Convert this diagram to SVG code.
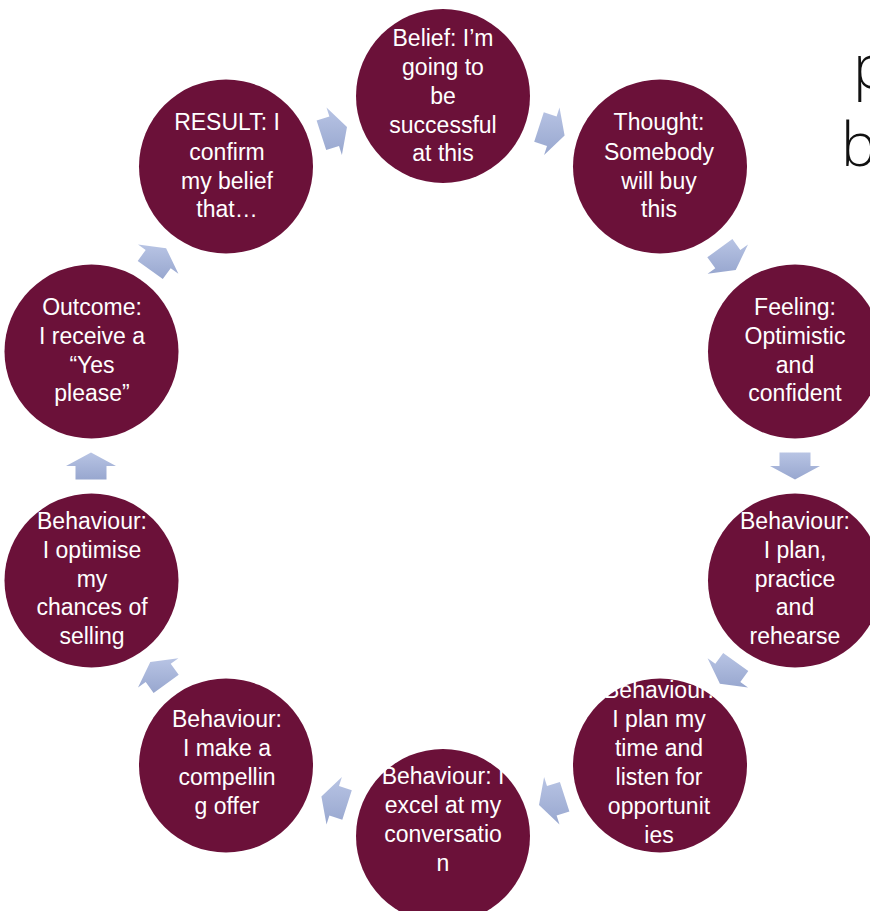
<svg xmlns="http://www.w3.org/2000/svg" width="870" height="911" viewBox="0 0 870 911">
<style>
.n{fill:#6b1139}
.t{font-family:"Liberation Sans",Arial,sans-serif;font-size:23px;fill:#ffffff;text-anchor:middle}
.a{fill:url(#ag)}
.title{font-family:"Open Sans","Liberation Sans",sans-serif;font-weight:300;font-size:60px;fill:#111}
</style>
<defs>
<linearGradient id="ag" x1="0" y1="0" x2="0" y2="1">
<stop offset="0" stop-color="#b8c4e4"/>
<stop offset="1" stop-color="#98a7cf"/>
</linearGradient>
</defs>
<rect width="870" height="911" fill="#fff"/>
<text class="title" x="853" y="88">p</text>
<text class="title" x="841" y="166">b</text>
<g id="connectors">
<polygon class="a" points="316.6,120.6 329.4,116.5 326.5,107.4 347.0,127.0 341.9,155.0 339.0,145.9 326.2,150.1"/>
<polygon class="a" points="543.8,112.3 556.6,116.5 559.5,107.4 564.6,135.4 544.1,155.0 547.0,145.9 534.2,141.8"/>
<polygon class="a" points="732.4,239.1 740.3,250.0 748.0,244.4 735.7,270.0 707.6,273.8 715.3,268.2 707.3,257.3"/>
<polygon class="a" points="810.5,452.5 810.5,466 820,466 795,479.5 770,466 779.5,466 779.5,452.5"/>
<polygon class="a" points="748.3,671.1 740.3,682.0 748.0,687.6 719.9,683.8 707.6,658.2 715.3,663.8 723.2,652.9"/>
<polygon class="a" points="569.4,811.4 556.6,815.5 559.5,824.6 539.0,805.0 544.1,777.0 547.0,786.1 559.9,781.9"/>
<polygon class="a" points="342.3,819.7 329.4,815.5 326.5,824.6 321.4,796.6 341.9,777.0 339.0,786.1 351.8,790.2"/>
<polygon class="a" points="153.6,692.9 145.7,682.0 138.0,687.6 150.3,662.0 178.4,658.2 170.7,663.8 178.7,674.7"/>
<polygon class="a" points="75.5,479.5 75.5,466 66,466 91,452.5 116,466 106.5,466 106.5,479.5"/>
<polygon class="a" points="137.7,260.9 145.7,250.0 138.0,244.4 166.1,248.2 178.4,273.8 170.7,268.2 162.8,279.1"/>
</g>
<g id="node1">
<circle class="n" cx="443" cy="96" r="87"/>
<text class="t" x="443" y="46">Belief: I’m</text>
<text class="t" x="443" y="75">going to</text>
<text class="t" x="443" y="104">be</text>
<text class="t" x="443" y="133">successful</text>
<text class="t" x="443" y="161">at this</text>
</g>
<g id="node2">
<circle class="n" cx="660" cy="166.5" r="87"/>
<text class="t" x="659" y="130">Thought:</text>
<text class="t" x="659" y="160">Somebody</text>
<text class="t" x="659" y="189">will buy</text>
<text class="t" x="659" y="217">this</text>
</g>
<g id="node3">
<circle class="n" cx="795" cy="351.5" r="87"/>
<text class="t" x="795" y="315">Feeling:</text>
<text class="t" x="795" y="344">Optimistic</text>
<text class="t" x="795" y="373">and</text>
<text class="t" x="795" y="401">confident</text>
</g>
<g id="node4">
<circle class="n" cx="795" cy="580.5" r="87"/>
<text class="t" x="795" y="529">Behaviour:</text>
<text class="t" x="795" y="558">I plan,</text>
<text class="t" x="795" y="587">practice</text>
<text class="t" x="795" y="615">and</text>
<text class="t" x="795" y="644">rehearse</text>
</g>
<g id="node5">
<circle class="n" cx="660" cy="765.5" r="87"/>
<text class="t" x="659" y="698">Behaviour:</text>
<text class="t" x="659" y="727">I plan my</text>
<text class="t" x="659" y="756">time and</text>
<text class="t" x="659" y="785">listen for</text>
<text class="t" x="659" y="814">opportunit</text>
<text class="t" x="659" y="843">ies</text>
</g>
<g id="node6">
<circle class="n" cx="443" cy="836" r="87"/>
<text class="t" x="443" y="784">Behaviour: I</text>
<text class="t" x="443" y="813">excel at my</text>
<text class="t" x="443" y="842">conversatio</text>
<text class="t" x="443" y="871">n</text>
</g>
<g id="node7">
<circle class="n" cx="226" cy="765.5" r="87"/>
<text class="t" x="227" y="727">Behaviour:</text>
<text class="t" x="227" y="756">I make a</text>
<text class="t" x="227" y="785">compellin</text>
<text class="t" x="227" y="814">g offer</text>
</g>
<g id="node8">
<circle class="n" cx="91.5" cy="580.5" r="87"/>
<text class="t" x="92" y="529">Behaviour:</text>
<text class="t" x="92" y="558">I optimise</text>
<text class="t" x="92" y="587">my</text>
<text class="t" x="92" y="615">chances of</text>
<text class="t" x="92" y="644">selling</text>
</g>
<g id="node9">
<circle class="n" cx="91.5" cy="351.5" r="87"/>
<text class="t" x="92" y="315">Outcome:</text>
<text class="t" x="92" y="344">I receive a</text>
<text class="t" x="92" y="373">“Yes</text>
<text class="t" x="92" y="401">please”</text>
</g>
<g id="node10">
<circle class="n" cx="226" cy="166.5" r="87"/>
<text class="t" x="227" y="130">RESULT: I</text>
<text class="t" x="227" y="160">confirm</text>
<text class="t" x="227" y="189">my belief</text>
<text class="t" x="227" y="217">that…</text>
</g>
</svg>
